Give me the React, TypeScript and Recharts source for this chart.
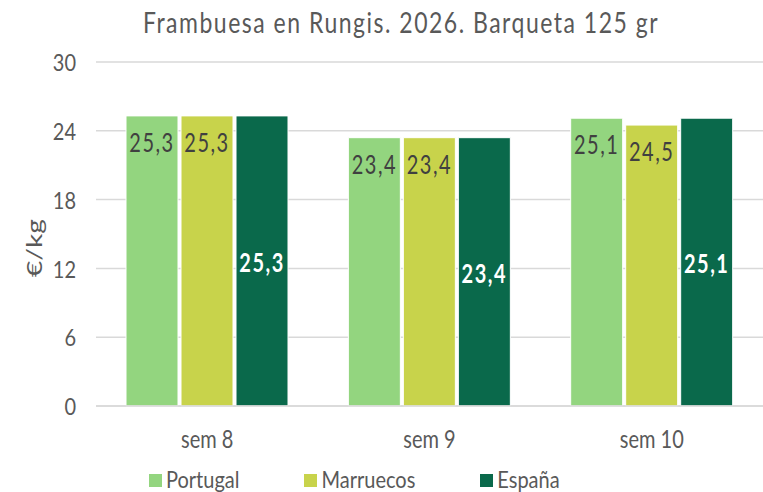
import React from 'react';
import { BarChart, Bar, XAxis, YAxis, CartesianGrid, Legend, LabelList } from 'recharts';

const semanas = ['sem 8', 'sem 9', 'sem 10'];
const portugal = [25.3, 23.4, 25.1];
const marruecos = [25.3, 23.4, 24.5];
const espana = [25.3, 23.4, 25.1];
const yTicks = [0, 6, 12, 18, 24, 30];
const seriesOrder = ['Portugal', 'Marruecos', 'España'];

const data = semanas.map((sem, i) => ({
  sem,
  Portugal: portugal[i],
  Marruecos: marruecos[i],
  España: espana[i],
}));

const fmt = (v: any) => String(v).replace('.', ',');
const FONT = 'Lato, "Open Sans", sans-serif';
const GREY = '#595959';

// the reference text is drawn a bit taller than it is wide, so stretch it vertically
const XTick = ({ x, y, payload }: any) => (
  <text transform={`translate(${x},${y + 32}) scale(1,1.28)`} textAnchor="middle" dominantBaseline="central" fill={GREY} fontSize={20} fontFamily={FONT}>
    {payload.value}
  </text>
);

const YTick = ({ x, y, payload }: any) => (
  <text transform={`translate(${x},${y}) scale(1,1.18)`} textAnchor="end" dominantBaseline="central" fill={GREY} fontSize={20} fontFamily={FONT}>
    {payload.value}
  </text>
);

const YLabel = ({ viewBox }: any) => {
  const cy = viewBox.y + viewBox.height / 2 + 14;
  return (
    <text transform={`translate(33,${cy}) rotate(-90) scale(1.28,1)`} textAnchor="middle" dominantBaseline="central" fill={GREY} fontSize={22} fontFamily={FONT}>
      €/kg
    </text>
  );
};

const topLabel = (props: any) => {
  const { x, y, width, value } = props;
  return (
    <text transform={`translate(${x + width / 2},${y + 26}) scale(1,1.3)`} textAnchor="middle" dominantBaseline="central" fill="#404040" fontSize={20} letterSpacing={1.5} fontFamily={FONT}>
      {fmt(value)}
    </text>
  );
};

const midLabel = (props: any) => {
  const { x, y, width, height, value } = props;
  return (
    <text transform={`translate(${x + width / 2},${y + height / 2 + 1}) scale(1,1.3)`} textAnchor="middle" dominantBaseline="central" fill="#ffffff" fontWeight="bold" fontSize={20} letterSpacing={1.5} fontFamily={FONT}>
      {fmt(value)}
    </text>
  );
};

const App = () => {
  return (
    <div style={{ position: 'absolute', left: 0, top: 0, width: 763, height: 492, background: '#fff', fontFamily: FONT }}>
      <div style={{ position: 'absolute', top: 4, left: 0, width: 802, textAlign: 'center', fontSize: 23, letterSpacing: 1.5, color: GREY, transform: 'scaleY(1.28)', transformOrigin: 'top' }}>
        Frambuesa en Rungis. 2026. Barqueta 125 gr
      </div>
      <BarChart
        width={763}
        height={492}
        data={data}
        margin={{ top: 62, right: 0, left: 0, bottom: 18 }}
        barGap={3}
        barCategoryGap="13.5%"
      >
        <CartesianGrid vertical={false} stroke="#d9d9d9" strokeWidth={1.5} />
        <XAxis
          dataKey="sem"
          height={44}
          axisLine={{ stroke: '#d9d9d9', strokeWidth: 1.5 }}
          tickLine={false}
          tickSize={0}
          tickMargin={0}
          tick={<XTick />}
        />
        <YAxis
          width={96}
          domain={[0, 30]}
          ticks={yTicks}
          axisLine={false}
          tickLine={false}
          tickSize={0}
          tickMargin={20}
          tick={<YTick />}
          label={<YLabel />}
        />
        <Legend
          align="left"
          iconType="square"
          iconSize={13}
          itemSorter={(item: any) => seriesOrder.indexOf(item.value)}
          wrapperStyle={{ paddingTop: 0, bottom: 2, left: 149, width: 'auto', fontSize: 20, fontFamily: FONT }}
          formatter={(value, entry, index) => (
            <span style={{ color: GREY, display: 'inline-block', transform: 'scaleY(1.2)', marginRight: index === 2 ? 0 : 55 }}>{value}</span>
          )}
        />
        <Bar dataKey="Portugal" fill="#93d57f" stroke="#fff" strokeWidth={1} isAnimationActive={false}>
          <LabelList dataKey="Portugal" content={topLabel} />
        </Bar>
        <Bar dataKey="Marruecos" fill="#c8d34b" stroke="#fff" strokeWidth={1} isAnimationActive={false}>
          <LabelList dataKey="Marruecos" content={topLabel} />
        </Bar>
        <Bar dataKey="España" fill="#0a694b" stroke="#fff" strokeWidth={1} isAnimationActive={false}>
          <LabelList dataKey="España" content={midLabel} />
        </Bar>
      </BarChart>
    </div>
  );
};

export default App;
